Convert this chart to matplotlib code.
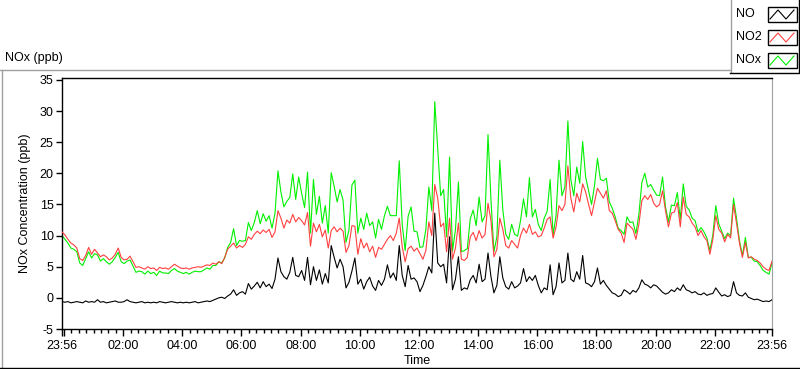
import matplotlib
matplotlib.use("Agg")
import matplotlib.pyplot as plt
import numpy as np
from matplotlib.lines import Line2D
from matplotlib.patches import Rectangle

# Data: 6-minute samples from 23:56 to 23:56 next day
step_min = 6
no2 = [10.6, 10.1, 9.4, 8.8, 8.5, 8.0, 6.3, 6.0, 6.8, 8.1,
       7.0, 7.8, 7.2, 6.6, 6.9, 6.6, 6.1, 6.4, 7.0, 8.0,
       6.5, 6.1, 6.2, 6.7, 5.8, 4.9, 5.0, 4.8, 4.6, 5.0,
       4.7, 4.8, 4.4, 4.9, 4.7, 4.8, 4.6, 5.0, 5.4, 5.1,
       4.8, 4.7, 4.8, 4.6, 4.8, 4.9, 5.0, 4.9, 5.1, 5.3,
       5.2, 5.6, 5.4, 5.8, 5.5, 6.5, 7.8, 8.3, 8.8, 8.0,
       8.4, 8.1, 8.6, 9.8, 9.4, 10.2, 10.7, 10.3, 10.9, 10.5,
       11.0, 9.7, 10.6, 14.0, 12.8, 11.2, 12.5, 12.0, 13.4, 12.2,
       12.9, 12.4, 11.7, 13.7, 8.3, 12.0, 10.6, 11.8, 9.8, 10.9,
       8.0, 10.8, 11.4, 10.6, 11.2, 10.7, 7.3, 8.4, 11.6, 11.5,
       7.0, 9.5, 8.0, 8.8, 7.4, 8.3, 6.5, 8.1, 7.8, 8.6,
       9.4, 10.0, 9.2, 10.4, 12.8, 8.2, 5.8, 7.9, 8.3, 7.5,
       8.0, 7.1, 6.2, 7.6, 12.2, 10.0, 18.2, 16.0, 11.4, 12.0,
       7.4, 12.8, 6.2, 8.0, 12.0, 6.2, 6.0, 6.5, 9.8, 10.5,
       9.2, 10.8, 9.6, 10.2, 15.2, 12.4, 6.6, 7.8, 12.8, 11.0,
       8.4, 8.0, 9.2, 8.6, 8.0, 10.0, 11.2, 10.4, 11.8, 10.2,
       10.6, 9.8, 10.0, 11.2, 12.6, 13.0, 9.6, 11.4, 14.8, 14.0,
       15.0, 21.2, 16.0, 13.8, 16.8, 15.4, 18.3, 17.0, 15.0, 13.2,
       15.4, 17.6, 16.8, 16.0, 17.2, 14.0, 13.6, 12.4, 11.0, 10.4,
       8.9, 12.0, 11.5, 11.0, 9.4, 11.8, 15.6, 16.4, 15.8, 16.6,
       15.2, 14.6, 15.0, 17.2, 14.0, 11.4, 13.6, 13.8, 15.3, 11.4,
       16.2, 13.4, 13.0, 12.0, 11.4, 10.0, 10.8, 9.8, 9.2, 7.0,
       9.4, 13.2, 11.0, 10.4, 9.0, 10.2, 9.6, 15.0, 12.0, 8.8,
       6.5, 8.9, 6.4, 6.6, 6.2, 6.0, 5.6, 5.0, 4.6, 4.4, 5.9]

no = [-0.6, -0.7, -0.6, -0.8, -0.7, -0.6, -0.7, -0.8, -0.5, -0.7,
      -0.6, -0.7, -0.3, -0.7, -0.6, -0.8, -0.7, -0.6, -0.5, -0.7,
      -0.7, -0.6, -0.3, -0.6, -0.7, -0.8, -0.7, -0.6, -0.8, -0.7,
      -0.8, -0.7, -0.8, -0.6, -0.7, -0.8, -0.7, -0.6, -0.7, -0.8,
      -0.7, -0.8, -0.7, -0.8, -0.7, -0.6, -0.8, -0.7, -0.6, -0.5,
      -0.6, -0.4, -0.2, 0.0, 0.1, -0.1, 0.3, 0.6, 1.3, 0.4,
      0.8, 1.0, 0.6, 2.3, 1.4, 1.9, 2.5, 1.6, 2.6, 1.8,
      2.2, 1.5, 3.0, 6.4, 4.2, 3.4, 3.0, 4.1, 6.5, 3.6,
      3.4, 4.4, 2.8, 6.5, 2.1, 5.0, 2.8, 4.5, 2.2, 3.9,
      2.4, 8.4, 6.5, 4.8, 6.2, 5.0, 1.6, 2.5, 4.3, 6.4,
      2.2, 3.0, 1.4, 2.6, 3.3, 1.9, 1.2, 2.8, 2.0, 3.0,
      5.3, 3.2, 4.0, 2.8, 8.4, 3.6, 1.8, 5.2, 3.0, 3.2,
      2.6, 1.0, 2.0, 3.4, 5.0, 4.0, 13.6, 5.6, 5.0, 5.4,
      2.4, 9.8, 1.3, 3.0, 6.6, 1.2, 1.6, 1.4, 2.9, 3.6,
      2.4, 5.4, 2.6, 3.0, 7.2, 3.4, 0.8, 2.0, 6.6, 3.2,
      1.8, 1.4, 2.6, 1.6, 1.9, 2.4, 4.7, 2.6, 3.4, 2.8,
      3.6, 2.0, 0.8, 1.6, 1.3, 5.3, 0.5, 1.8, 5.6, 2.4,
      2.8, 7.2, 3.0, 2.6, 4.2, 3.0, 6.8, 2.4, 2.2, 1.8,
      2.6, 4.8, 2.2, 2.8, 2.0, 1.4, 0.8, 0.6, 0.2, 0.4,
      1.3, 1.0, 0.6, 1.2, 0.9, 1.6, 2.9, 2.2, 2.0, 1.6,
      2.1, 1.9, 1.4, 0.9, 0.6, 0.8, 1.3, 1.0, 1.6, 1.2,
      2.1, 1.3, 1.1, 0.8, 1.0, 0.6, 0.5, 0.8, 0.4, 0.6,
      0.7, 1.6, 0.9, 0.3, 0.5, 0.2, 0.4, 2.6, 0.8, 0.4,
      0.3, 0.8, 0.1, -0.1, -0.3, -0.2, -0.4, -0.6, -0.5, -0.6, -0.3]

nox = [10.0, 9.4, 8.8, 8.0, 7.8, 7.4, 5.6, 5.2, 6.3, 7.4,
       6.4, 7.1, 6.9, 5.9, 6.3, 5.8, 5.4, 5.8, 6.5, 7.3,
       5.8, 5.5, 5.9, 6.1, 5.1, 4.1, 4.3, 4.2, 3.8, 4.3,
       3.9, 4.1, 3.6, 4.3, 4.0, 4.0, 3.9, 4.4, 4.7, 4.3,
       4.1, 3.9, 4.1, 3.8, 4.1, 4.3, 4.2, 4.2, 4.5, 4.8,
       4.6, 5.2, 5.2, 5.8, 5.6, 6.4, 8.1, 8.9, 11.1, 8.4,
       9.2, 9.1, 9.2, 12.1, 10.8, 12.1, 14.0, 11.9, 13.5, 12.3,
       13.2, 11.2, 13.6, 20.4, 17.0, 14.6, 15.5, 16.1, 19.9, 15.8,
       19.4, 16.8, 14.5, 20.2, 10.4, 19.0, 13.4, 16.3, 12.0, 14.8,
       10.4, 20.1, 17.9, 15.4, 17.4, 15.7, 8.9, 10.9, 18.1, 18.9,
       10.4, 12.8, 11.0, 13.6, 11.6, 12.2, 9.6, 12.6, 11.0, 13.2,
       14.7, 13.2, 13.2, 13.2, 22.0, 11.8, 7.6, 13.1, 14.6, 10.7,
       10.6, 8.1, 8.2, 11.0, 17.8, 14.0, 31.5, 24.0, 16.4, 17.4,
       9.8, 22.6, 7.5, 11.0, 18.6, 7.4, 7.6, 7.9, 12.7, 14.1,
       11.6, 16.2, 12.2, 13.2, 26.2, 15.8, 7.4, 9.8, 22.1, 14.2,
       10.2, 9.4, 11.8, 10.2, 9.9, 12.4, 15.9, 13.0, 19.3, 13.0,
       14.2, 11.8, 10.8, 12.8, 13.9, 19.0, 10.1, 13.2, 22.1, 16.4,
       17.8, 28.4, 19.0, 16.4, 21.0, 18.4, 25.1, 19.4, 17.2, 15.0,
       18.0, 22.4, 19.0, 18.8, 19.2, 15.4, 14.4, 13.0, 11.2, 10.8,
       10.2, 13.0, 12.1, 12.2, 10.3, 13.4, 18.5, 20.0, 17.8, 18.2,
       17.3, 16.5, 16.4, 19.4, 14.6, 12.2, 14.9, 14.8, 16.9, 12.6,
       18.3, 14.7, 14.1, 12.8, 12.4, 10.6, 11.3, 10.6, 9.6, 7.6,
       10.1, 14.8, 11.9, 10.7, 9.5, 10.4, 10.0, 16.0, 12.8, 9.2,
       6.8, 9.7, 6.5, 6.5, 5.9, 5.8, 5.2, 4.4, 4.1, 3.8, 5.6]

yticks = [-5, 0, 5, 10, 15, 20, 25, 30, 35]
xtick_labels = ["23:56", "", "02:00", "04:00", "06:00", "08:00", "10:00",
                "12:00", "14:00", "16:00", "18:00", "20:00", "22:00", "23:56"]

series_names = ["NO", "NO2", "NOx"]
series_colors = ["#000000", "#ff4040", "#00f000"]

W, H = 800, 369
font = "Liberation Sans"
fs = 9


def fx(px):
    return px / W


def fy(py):
    return 1 - py / H


t = np.arange(len(no2)) * step_min

fig = plt.figure(figsize=(W / 100, H / 100), dpi=100)
ax = fig.add_axes([fx(62), fy(329), fx(772) - fx(62), fy(78) - fy(329)])

ax.plot(t, nox, color=series_colors[2], lw=0.8, zorder=2)
ax.plot(t, no2, color=series_colors[1], lw=0.8, zorder=3)
ax.plot(t, no, color=series_colors[0], lw=0.8, zorder=4)

ax.set_xlim(0, 1440)
ax.set_ylim(-5, 35.3)

ax.set_yticks(yticks)
ax.set_yticklabels([str(v) for v in yticks], fontname=font, fontsize=fs)

# 23:56 start, then every 2 h from 00:00, then 23:56 end
majors = [0] + list(range(4, 1440, 120)) + [1440]
ax.set_xticks(majors)
ax.set_xticklabels(xtick_labels, fontname=font, fontsize=fs)
minors = [m for m in range(4, 1440, 15) if (m - 4) % 120 != 0]
ax.set_xticks(minors, minor=True)

ax.tick_params(axis="y", length=4, width=1, pad=2, colors="black")
ax.tick_params(axis="x", which="major", length=5, width=1, pad=3)
ax.tick_params(axis="x", which="minor", length=3, width=1)

for side in ["left", "top", "bottom"]:
    ax.spines[side].set_color("black")
    ax.spines[side].set_linewidth(1)
ax.spines["right"].set_color("#a0a0a0")

ax.set_ylabel("NOx Concentration (ppb)", fontname=font, fontsize=fs, labelpad=6)
ax.set_xlabel("Time", fontname=font, fontsize=fs, labelpad=2)

# title above the graph panel
fig.text(fx(5), fy(58), "NOx (ppb)", fontname=font, fontsize=fs,
         ha="left", va="center")

# panel frame
fig.add_artist(Line2D([fx(0), fx(730)], [fy(69.5), fy(69.5)], color="#a0a0a0", lw=1))
fig.add_artist(Line2D([fx(1.5), fx(1.5)], [fy(69.5), fy(367)], color="#a0a0a0", lw=1))
fig.add_artist(Line2D([fx(0), fx(800)], [fy(367.5), fy(367.5)], color="black", lw=1))

# legend box
fig.add_artist(Line2D([fx(730.5), fx(730.5)], [fy(0), fy(72)], color="#a0a0a0", lw=1))
fig.add_artist(Line2D([fx(730), fx(800)], [fy(72.5), fy(72.5)], color="black", lw=1))
fig.add_artist(Line2D([fx(799), fx(799)], [fy(0), fy(72)], color="black", lw=1))

row_y = [14, 37, 60]
for name, col, yc in zip(series_names, series_colors, row_y):
    fig.text(fx(736), fy(yc), name, fontname=font, fontsize=fs,
             ha="left", va="center")
    fig.add_artist(Rectangle((fx(767.5), fy(yc + 7.5)), fx(29), fy(0) - fy(15),
                             fill=False, edgecolor="black", lw=1))
    fig.add_artist(Line2D([fx(770), fx(778), fx(786), fx(794)],
                          [fy(yc + 5), fy(yc - 4), fy(yc + 5), fy(yc - 4)],
                          color=col, lw=0.8))

fig.savefig("out.png", dpi=100)
